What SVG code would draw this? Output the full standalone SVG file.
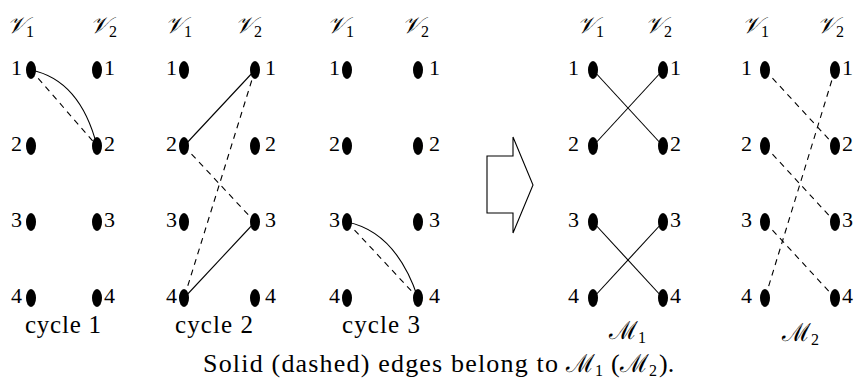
<svg xmlns="http://www.w3.org/2000/svg" width="861" height="384" viewBox="0 0 861 384">
<defs>
<style>
.dot{fill:#000}
.s{fill:none;stroke:#000;stroke-width:1.1}
.d{fill:none;stroke:#000;stroke-width:1.1;stroke-dasharray:6 5}
.t{font-family:'Liberation Serif', 'Times New Roman', serif;fill:#000}
.n{font-size:22px}
.ne{font-size:22px;text-anchor:end}
.v{font-family:'DejaVu Serif', 'Liberation Serif', serif;font-size:23px;font-style:italic;fill:#000}
.sub{font-family:'Liberation Serif', serif;font-size:16px;font-style:normal}
.cap{font-size:25px}
.cap2{font-size:26px}
.m{font-family:'DejaVu Serif', 'Liberation Serif', serif;font-size:25px;fill:#000}
</style>
</defs>
<rect width="861" height="384" fill="#fff"/>
<g id="connectors">
  <path class="s" d="M31,70 Q80,80 97,146"/>
  <line class="d" x1="31" y1="70" x2="97" y2="146"/>
  <line class="s" x1="184" y1="146" x2="255" y2="70"/>
  <line class="d" x1="255" y1="70" x2="184" y2="298"/>
  <line class="d" x1="184" y1="146" x2="255" y2="222"/>
  <line class="s" x1="255" y1="222" x2="184" y2="298"/>
  <path class="s" d="M347,222 Q396,232 418,298"/>
  <line class="d" x1="347" y1="222" x2="418" y2="298"/>
  <line class="s" x1="593" y1="70" x2="663" y2="146"/>
  <line class="s" x1="593" y1="146" x2="663" y2="70"/>
  <line class="s" x1="593" y1="222" x2="663" y2="298"/>
  <line class="s" x1="593" y1="298" x2="663" y2="222"/>
  <line class="d" x1="765" y1="70" x2="835" y2="146"/>
  <line class="d" x1="765" y1="146" x2="835" y2="222"/>
  <line class="d" x1="835" y1="70" x2="765" y2="298"/>
  <line class="d" x1="765" y1="222" x2="835" y2="298"/>
</g>
<g id="cycle1">
  <text class="v" x="7" y="33">𝒱<tspan class="sub" dy="4">1</tspan></text>
  <text class="v" x="90" y="33">𝒱<tspan class="sub" dy="4">2</tspan></text>
  <ellipse class="dot" cx="31" cy="70" rx="5" ry="9"/><ellipse class="dot" cx="31" cy="146" rx="5" ry="9"/>
  <ellipse class="dot" cx="31" cy="222" rx="5" ry="9"/><ellipse class="dot" cx="31" cy="298" rx="5" ry="9"/>
  <ellipse class="dot" cx="97" cy="70" rx="5" ry="9"/><ellipse class="dot" cx="97" cy="146" rx="5" ry="9"/>
  <ellipse class="dot" cx="97" cy="222" rx="5" ry="9"/><ellipse class="dot" cx="97" cy="298" rx="5" ry="9"/>
  <text class="t ne" x="22" y="75">1</text><text class="t ne" x="22" y="151">2</text><text class="t ne" x="22" y="227">3</text><text class="t ne" x="22" y="303">4</text>
  <text class="t n" x="104" y="75">1</text><text class="t n" x="104" y="151">2</text><text class="t n" x="104" y="227">3</text><text class="t n" x="104" y="303">4</text>
  <text class="t cap" x="25" y="333" textLength="76">cycle 1</text>
</g>
<g id="cycle2">
  <text class="v" x="165" y="33">𝒱<tspan class="sub" dy="4">1</tspan></text>
  <text class="v" x="235" y="33">𝒱<tspan class="sub" dy="4">2</tspan></text>
  <ellipse class="dot" cx="184" cy="70" rx="5" ry="9"/><ellipse class="dot" cx="184" cy="146" rx="5" ry="9"/>
  <ellipse class="dot" cx="184" cy="222" rx="5" ry="9"/><ellipse class="dot" cx="184" cy="298" rx="5" ry="9"/>
  <ellipse class="dot" cx="255" cy="70" rx="5" ry="9"/><ellipse class="dot" cx="255" cy="146" rx="5" ry="9"/>
  <ellipse class="dot" cx="255" cy="222" rx="5" ry="9"/><ellipse class="dot" cx="255" cy="298" rx="5" ry="9"/>
  <text class="t ne" x="177" y="75">1</text><text class="t ne" x="177" y="151">2</text><text class="t ne" x="177" y="227">3</text><text class="t ne" x="177" y="303">4</text>
  <text class="t n" x="265" y="75">1</text><text class="t n" x="265" y="151">2</text><text class="t n" x="265" y="227">3</text><text class="t n" x="265" y="303">4</text>
  <text class="t cap" x="175" y="333" textLength="78">cycle 2</text>
</g>
<g id="cycle3">
  <text class="v" x="327" y="33">𝒱<tspan class="sub" dy="4">1</tspan></text>
  <text class="v" x="402" y="33">𝒱<tspan class="sub" dy="4">2</tspan></text>
  <ellipse class="dot" cx="347" cy="70" rx="5" ry="9"/><ellipse class="dot" cx="347" cy="146" rx="5" ry="9"/>
  <ellipse class="dot" cx="347" cy="222" rx="5" ry="9"/><ellipse class="dot" cx="347" cy="298" rx="5" ry="9"/>
  <ellipse class="dot" cx="418" cy="70" rx="5" ry="9"/><ellipse class="dot" cx="418" cy="146" rx="5" ry="9"/>
  <ellipse class="dot" cx="418" cy="222" rx="5" ry="9"/><ellipse class="dot" cx="418" cy="298" rx="5" ry="9"/>
  <text class="t ne" x="340" y="75">1</text><text class="t ne" x="340" y="151">2</text><text class="t ne" x="340" y="227">3</text><text class="t ne" x="340" y="303">4</text>
  <text class="t n" x="429" y="75">1</text><text class="t n" x="429" y="151">2</text><text class="t n" x="429" y="227">3</text><text class="t n" x="429" y="303">4</text>
  <text class="t cap" x="342" y="333" textLength="78">cycle 3</text>
</g>
<g id="arrow">
  <polygon points="487,156 513,156 513,137 533,185 513,233 513,213 487,213" fill="#fff" stroke="#000" stroke-width="1.1"/>
</g>
<g id="M1">
  <text class="v" x="577" y="33">𝒱<tspan class="sub" dy="4">1</tspan></text>
  <text class="v" x="645" y="33">𝒱<tspan class="sub" dy="4">2</tspan></text>
  <ellipse class="dot" cx="593" cy="70" rx="5" ry="9"/><ellipse class="dot" cx="593" cy="146" rx="5" ry="9"/>
  <ellipse class="dot" cx="593" cy="222" rx="5" ry="9"/><ellipse class="dot" cx="593" cy="298" rx="5" ry="9"/>
  <ellipse class="dot" cx="663" cy="70" rx="5" ry="9"/><ellipse class="dot" cx="663" cy="146" rx="5" ry="9"/>
  <ellipse class="dot" cx="663" cy="222" rx="5" ry="9"/><ellipse class="dot" cx="663" cy="298" rx="5" ry="9"/>
  <text class="t ne" x="579" y="75">1</text><text class="t ne" x="579" y="151">2</text><text class="t ne" x="579" y="227">3</text><text class="t ne" x="579" y="303">4</text>
  <text class="t n" x="670" y="75">1</text><text class="t n" x="670" y="151">2</text><text class="t n" x="670" y="227">3</text><text class="t n" x="670" y="303">4</text>
  <text class="m" x="609" y="339">ℳ<tspan class="sub" dy="4">1</tspan></text>
</g>
<g id="M2">
  <text class="v" x="742" y="33">𝒱<tspan class="sub" dy="4">1</tspan></text>
  <text class="v" x="817" y="33">𝒱<tspan class="sub" dy="4">2</tspan></text>
  <ellipse class="dot" cx="765" cy="70" rx="5" ry="9"/><ellipse class="dot" cx="765" cy="146" rx="5" ry="9"/>
  <ellipse class="dot" cx="765" cy="222" rx="5" ry="9"/><ellipse class="dot" cx="765" cy="298" rx="5" ry="9"/>
  <ellipse class="dot" cx="835" cy="70" rx="5" ry="9"/><ellipse class="dot" cx="835" cy="146" rx="5" ry="9"/>
  <ellipse class="dot" cx="835" cy="222" rx="5" ry="9"/><ellipse class="dot" cx="835" cy="298" rx="5" ry="9"/>
  <text class="t ne" x="752" y="75">1</text><text class="t ne" x="752" y="151">2</text><text class="t ne" x="752" y="227">3</text><text class="t ne" x="752" y="303">4</text>
  <text class="t n" x="842" y="75">1</text><text class="t n" x="842" y="151">2</text><text class="t n" x="842" y="227">3</text><text class="t n" x="842" y="303">4</text>
  <text class="m" x="782" y="341">ℳ<tspan class="sub" dy="4">2</tspan></text>
</g>
<g id="caption">
  <text class="t cap2" x="203" y="372" textLength="355">Solid (dashed) edges belong to</text>
  <text class="m" x="566" y="372">ℳ<tspan class="sub" dy="4">1</tspan></text>
  <text class="t cap2" x="611" y="372">(</text>
  <text class="m" x="620" y="372">ℳ<tspan class="sub" dy="4">2</tspan></text>
  <text class="t cap2" x="659" y="372">).</text>
</g>
</svg>
